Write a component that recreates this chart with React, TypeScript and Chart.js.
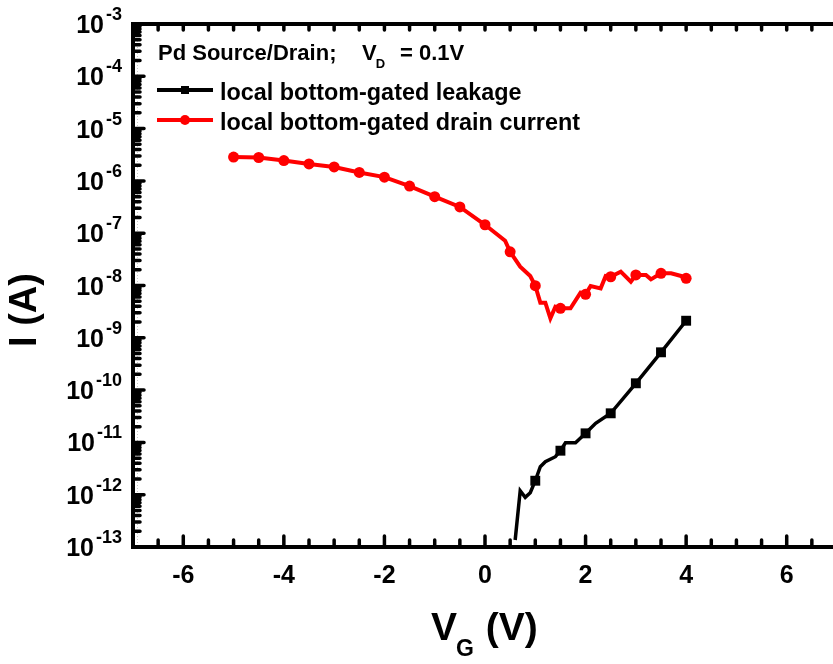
import React, { useEffect, useRef } from "react";
import { Chart, registerables } from "chart.js";

Chart.register(...registerables);

// Gate voltage (V) and drain current (A) for the local bottom-gated device
const drainVg = [-5, -4.5, -4, -3.5, -3, -2.5, -2, -1.5, -1, -0.5, 0, 0.4, 0.5, 0.7, 0.9, 1.0, 1.1, 1.2, 1.3, 1.4, 1.5, 1.7, 1.9, 2.0, 2.1, 2.3, 2.4, 2.5, 2.7, 2.9, 3.0, 3.2, 3.3, 3.5, 3.7, 3.9, 4.0];
const drainI = [2.85e-6, 2.8e-6, 2.45e-6, 2.11e-6, 1.85e-6, 1.45e-6, 1.18e-6, 7.96e-7, 5.0e-7, 3.18e-7, 1.45e-7, 7.2e-8, 4.4e-8, 2.29e-8, 1.52e-8, 9.9e-9, 4.7e-9, 4.7e-9, 2.36e-9, 3.94e-9, 3.66e-9, 3.66e-9, 7.28e-9, 6.79e-9, 9.77e-9, 8.83e-9, 1.52e-8, 1.47e-8, 1.84e-8, 1.18e-8, 1.59e-8, 1.59e-8, 1.31e-8, 1.71e-8, 1.71e-8, 1.52e-8, 1.37e-8];

// Gate leakage current (A)
const leakVg = [0.6, 0.7, 0.8, 0.9, 1.0, 1.1, 1.2, 1.4, 1.5, 1.6, 1.8, 2.0, 2.2, 2.5, 3.0, 3.5, 4.0];
const leakI = [1.36e-13, 1.19e-12, 8.9e-13, 1.09e-12, 1.85e-12, 3.43e-12, 4.27e-12, 5.33e-12, 6.94e-12, 9.87e-12, 9.87e-12, 1.49e-11, 2.32e-11, 3.6e-11, 1.35e-10, 5.28e-10, 2.12e-9];

// Axis ranges and labelled ticks
const xMin = -7;
const xMax = 7;
const xTickLabels = [-6, -4, -2, 0, 2, 4, 6];
const yExponents = [-13, -12, -11, -10, -9, -8, -7, -6, -5, -4, -3];

const legendTitle = "Pd Source/Drain;";
const legendBias = "= 0.1V";
const leakName = "local bottom-gated leakage";
const drainName = "local bottom-gated drain current";

const FONT = '"Liberation Sans", Arial, sans-serif';
const W = 850;
const H = 664;
const VIEW_W = 833;

// markers sit on every half volt
const onHalfVolt = (v: number) => Math.abs(v * 2 - Math.round(v * 2)) < 1e-6;

const framePlugin = {
  id: "originFrame",
  afterDraw(chart: any) {
    const { ctx, chartArea: a, scales } = chart;
    const x = scales.x;
    const y = scales.y;
    ctx.save();

    // faint dotted guide just inside the left axis
    ctx.strokeStyle = "#c8c8c8";
    ctx.lineWidth = 1;
    ctx.setLineDash([1, 2]);
    ctx.beginPath();
    ctx.moveTo(a.left + 4.5, a.top + 2);
    ctx.lineTo(a.left + 4.5, a.bottom - 2);
    ctx.stroke();
    ctx.setLineDash([]);

    // ticks pointing into the plot
    ctx.strokeStyle = "#000";
    ctx.lineWidth = 3.5;
    ctx.lineCap = "round";
    ctx.beginPath();
    for (let v = xMin; v <= xMax + 1e-9; v += 0.5) {
      const px = x.getPixelForValue(v);
      const major = Math.abs(v / 2 - Math.round(v / 2)) < 1e-9;
      const len = major ? 11 : 7;
      ctx.moveTo(px, a.bottom);
      ctx.lineTo(px, a.bottom - len);
      ctx.moveTo(px, a.top);
      ctx.lineTo(px, a.top + 6);
    }
    for (const e of yExponents) {
      const py = y.getPixelForValue(Math.pow(10, e));
      ctx.moveTo(a.left, py);
      ctx.lineTo(a.left + 11, py);
      if (e < -3) {
        for (let k = 2; k <= 9; k++) {
          const pm = y.getPixelForValue(k * Math.pow(10, e));
          ctx.moveTo(a.left, pm);
          ctx.lineTo(a.left + 7, pm);
        }
      }
    }
    ctx.stroke();

    // left, top and bottom axis lines
    ctx.lineCap = "square";
    ctx.lineWidth = 4;
    ctx.beginPath();
    ctx.moveTo(a.right + 20, a.top);
    ctx.lineTo(a.left, a.top);
    ctx.lineTo(a.left, a.bottom);
    ctx.lineTo(a.right + 20, a.bottom);
    ctx.stroke();

    ctx.fillStyle = "#000";

    // y tick labels: 10 with a raised exponent
    for (const e of yExponents) {
      const py = y.getPixelForValue(Math.pow(10, e));
      ctx.textAlign = "right";
      ctx.textBaseline = "alphabetic";
      ctx.font = `bold 18px ${FONT}`;
      const exp = String(e);
      const ew = ctx.measureText(exp).width;
      ctx.fillText(exp, 122, py - 4);
      ctx.font = `bold 25px ${FONT}`;
      ctx.fillText("10", 122 - ew - 2, py + 9);
    }

    // x tick labels
    ctx.textAlign = "center";
    ctx.font = `bold 25px ${FONT}`;
    for (const v of xTickLabels) {
      ctx.fillText(String(v), x.getPixelForValue(v), 583);
    }

    // x title: V_G (V)
    ctx.textAlign = "left";
    ctx.font = `bold 39px ${FONT}`;
    let tx = 431;
    ctx.fillText("V", tx, 640);
    tx += ctx.measureText("V").width;
    ctx.font = `bold 23px ${FONT}`;
    ctx.fillText("G", tx - 1, 656);
    tx += ctx.measureText("G").width;
    ctx.font = `bold 39px ${FONT}`;
    ctx.fillText(" (V)", tx, 640);

    // y title
    ctx.save();
    ctx.translate(26, 310);
    ctx.rotate(-Math.PI / 2);
    ctx.textAlign = "center";
    ctx.textBaseline = "middle";
    ctx.font = `bold 38px ${FONT}`;
    ctx.fillText("I (A)", 0, 0);
    ctx.restore();

    // legend
    ctx.textAlign = "left";
    ctx.textBaseline = "alphabetic";
    ctx.font = `bold 22px ${FONT}`;
    ctx.fillText(legendTitle, 158, 60);
    ctx.fillText("V", 362, 60);
    const vw = ctx.measureText("V").width;
    ctx.font = `bold 13px ${FONT}`;
    ctx.fillText("D", 362 + vw - 1, 68);
    ctx.font = `bold 22px ${FONT}`;
    ctx.fillText(legendBias, 400, 60);

    const entries = [
      { name: leakName, color: "#000000", y: 90, square: true },
      { name: drainName, color: "#ff0000", y: 120, square: false },
    ];
    for (const en of entries) {
      ctx.strokeStyle = en.color;
      ctx.fillStyle = en.color;
      ctx.lineWidth = 4;
      ctx.lineCap = "butt";
      ctx.beginPath();
      ctx.moveTo(157, en.y);
      ctx.lineTo(213, en.y);
      ctx.stroke();
      if (en.square) {
        ctx.fillRect(181, en.y - 4, 8, 8);
      } else {
        ctx.beginPath();
        ctx.arc(185, en.y, 5, 0, Math.PI * 2);
        ctx.fill();
      }
      ctx.fillStyle = "#000";
      ctx.font = `bold 23.4px ${FONT}`;
      ctx.fillText(en.name, 220, en.y + 10);
    }

    ctx.restore();
  },
};

export default function App() {
  const canvasRef = useRef<HTMLCanvasElement | null>(null);

  useEffect(() => {
    // keep the page itself from scrolling
    document.documentElement.style.overflow = "hidden";
    document.body.style.overflow = "hidden";

    const canvas = canvasRef.current;
    if (!canvas) return;
    const chart = new Chart(canvas, {
      type: "line",
      data: {
        datasets: [
          {
            label: leakName,
            data: leakVg.map((v, i) => ({ x: v, y: leakI[i] })),
            borderColor: "#000000",
            backgroundColor: "#000000",
            borderWidth: 3.5,
            pointStyle: "rect",
            pointRadius: (c: any) => (onHalfVolt(leakVg[c.dataIndex]) ? 7 : 0),
            pointBorderWidth: 0,
            tension: 0,
          },
          {
            label: drainName,
            data: drainVg.map((v, i) => ({ x: v, y: drainI[i] })),
            borderColor: "#ff0000",
            backgroundColor: "#ff0000",
            borderWidth: 4,
            pointStyle: "circle",
            pointRadius: (c: any) => (onHalfVolt(drainVg[c.dataIndex]) ? 5.5 : 0),
            pointBorderWidth: 0,
            tension: 0,
          },
        ],
      },
      options: {
        animation: false,
        responsive: false,
        events: [],
        layout: { padding: { left: 133, top: 24, right: W - 837, bottom: H - 547 } },
        scales: {
          x: { type: "linear", min: xMin, max: xMax, display: false },
          y: { type: "logarithmic", min: 1e-13, max: 1e-3, display: false },
        },
        plugins: { legend: { display: false }, tooltip: { enabled: false } },
      },
      plugins: [framePlugin],
    });
    return () => chart.destroy();
  }, []);

  return (
    <div
      style={{
        position: "fixed",
        left: 0,
        top: 0,
        width: VIEW_W,
        height: H,
        overflow: "hidden",
        background: "#fff",
      }}
    >
      <canvas ref={canvasRef} width={W} height={H} style={{ display: "block" }} />
    </div>
  );
}
